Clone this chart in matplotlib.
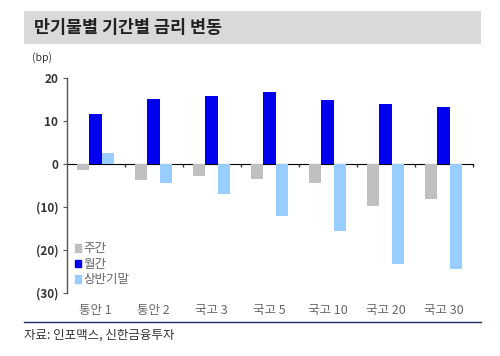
import matplotlib.pyplot as plt
import numpy as np
from matplotlib.patches import Rectangle
from matplotlib.lines import Line2D

plt.rcParams['font.family'] = ['Noto Sans CJK KR', 'DejaVu Sans']

# ---------------------------
# Data (bp)
# ---------------------------
categories = ["통안 1", "통안 2", "국고 3", "국고 5", "국고 10", "국고 20", "국고 30"]
weekly = [-1.4, -3.7, -2.7, -3.5, -4.5, -9.8, -8.1]
monthly = [11.6, 15.3, 15.9, 16.9, 15.0, 14.0, 13.3]
half_end = [2.6, -4.5, -7.0, -12.2, -15.5, -23.4, -24.5]
series_names = ["주간", "월간", "상반기말"]
colors = ["#c0c0c0", "#0000ee", "#99ccff"]

yticks = [20, 10, 0, -10, -20, -30]
ytick_labels = ["20", "10", "0", "(10)", "(20)", "(30)"]
ymin, ymax = -30, 20

fig = plt.figure(figsize=(5, 3.56), dpi=100)

# title banner
fig.patches.append(Rectangle((0.048, 0.877), 0.914, 0.093, transform=fig.transFigure,
                             facecolor="#d9d9d9", edgecolor="none"))
fig.text(0.068, 0.921, "만기물별 기간별 금리 변동", fontsize=12.5, fontweight="bold",
         color="#222222", va="center", ha="left")
fig.text(0.064, 0.838, "(bp)", fontsize=7.5, color="#333333", va="center")

ax = fig.add_axes([0.1334, 0.178, 0.812, 0.6017])
x = np.arange(len(categories))
w = 0.215
for i, (vals, name, c) in enumerate(zip([weekly, monthly, half_end], series_names, colors)):
    ax.bar(x + (i - 1) * w, vals, width=w, color=c, label=name, zorder=2)

ax.set_xlim(-0.5, len(categories) - 0.5)
ax.set_ylim(ymin, ymax)
ax.set_yticks(yticks)
ax.set_yticklabels(ytick_labels, fontsize=8.5, fontweight="bold", color="#333333")
ax.tick_params(axis="y", length=3, width=0.8, color="#555555", pad=3)
ax.set_xticks(x)
ax.set_xticklabels(categories, fontsize=9, color="#666666")
ax.tick_params(axis="x", length=0, pad=8)
for s in ["top", "right", "bottom"]:
    ax.spines[s].set_visible(False)
ax.spines["left"].set_color("#555555")
ax.spines["left"].set_linewidth(1.0)

# zero line with boundary ticks
zero_loc = (0 - ymin) / (ymax - ymin)
sec = ax.secondary_xaxis(zero_loc)
sec.set_xticks(np.arange(len(categories)) + 0.5)
sec.set_xticklabels([])
sec.tick_params(direction="in", length=2.5, width=1.0, color="#333333")
sec.spines["bottom"].set_color("#777777")
sec.spines["bottom"].set_linewidth(1.2)

handles = [Rectangle((0, 0), 1, 1, color=c) for c in colors]
ax.legend(handles, series_names, loc="lower left", bbox_to_anchor=(0.02, 0.03),
          frameon=False, fontsize=9, handlelength=0.5, handleheight=0.55,
          handletextpad=0.15, labelspacing=0.2, labelcolor="#666666", borderaxespad=0.0,
          borderpad=0.0)

# bottom rule and source
fig.add_artist(Line2D([0.048, 0.962], [0.095, 0.095], transform=fig.transFigure,
                      color="#1f2a6b", linewidth=1.0))
fig.text(0.048, 0.058, "자료: 인포맥스, 신한금융투자", fontsize=9, color="#333333", va="center")

fig.savefig("out.png", dpi=100)
